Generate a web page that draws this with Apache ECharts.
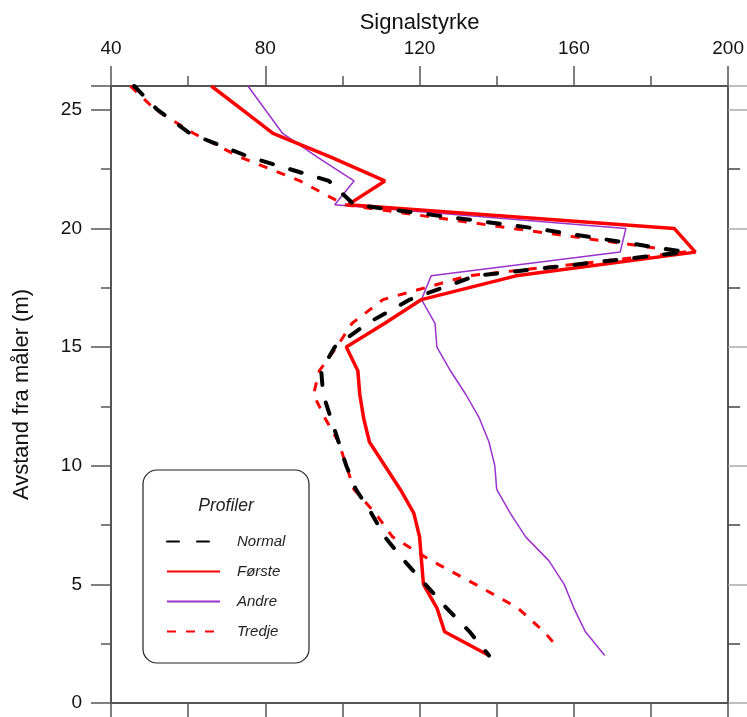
<!DOCTYPE html>
<html>
<head>
<meta charset="utf-8">
<script src="https://cdn.jsdelivr.net/npm/echarts@6/dist/echarts.min.js"></script>
<style>
html,body{margin:0;padding:0;background:#fff;}
#c{width:747px;height:717px;}
</style>
</head>
<body>
<div id="c"></div>
<script>
// Depths (m) for the profiles
const depths = [26,25,24,23,22,21,20,19,18,17,16,15,14,13,12,11,10,9,8,7,6,5,4,3,2];
const tredjeDepths = [26,25,24,23,22,21,20,19,18,17,16,15,14,13,12,11,10,9,8,7,6,5,4,3,2.5];

// Signal strength values
const normal = [46,52,60.5,76,96.5,103,150,189,134.5,117.5,106.5,98,94.5,95,97,99,101,103.5,107.5,111,116,121.5,127,133,138];
const forste = [66,74,82,97,111,101.5,186,191.5,145,120.5,111,101,104,104.5,105.5,107,111,115,118.5,120,120.5,121,124.5,126.5,138];
const andre  = [75.5,80,84.5,93.5,103,98,173.5,172,123,120.5,124,124.5,128,132,135.5,138,139.5,140,143.5,147.5,153.5,157.5,160,163,168];
const tredje = [45,51.5,61.5,73.5,89,100.5,144,189,132.5,110.5,102.5,98.5,94,92.5,95.5,99,101,103,108.5,113,123,134.5,145.5,152.3,155];

const seriesNames = ['Normal','Første','Andre','Tredje'];
const xTicks = [40,80,120,160,200];
const yTicks = [0,5,10,15,20,25];

function pairs(vals, ds){ return vals.map((v,i)=>[v, ds[i]]); }

const FONT = 'Liberation Sans, Arial, sans-serif';
const AX = '#555';

const chart = echarts.init(document.getElementById('c'));
chart.setOption({
  animation:false,
  textStyle:{fontFamily:FONT},
  grid:{left:111, right:16, top:86, bottom:14, containLabel:false},
  xAxis:[{
    type:'value', position:'top', min:xTicks[0], max:xTicks[xTicks.length-1], interval:40,
    name:'Signalstyrke', nameLocation:'middle', nameGap:50,
    nameTextStyle:{fontSize:22, color:'#111', fontFamily:FONT},
    axisLine:{show:true, onZero:false, lineStyle:{color:AX, width:2}},
    axisTick:{show:true, length:20, lineStyle:{color:AX, width:1.5}},
    minorTick:{show:true, splitNumber:2, length:10, lineStyle:{color:AX, width:1.5}},
    axisLabel:{fontSize:19, color:'#111', margin:28, fontFamily:FONT},
    splitLine:{show:false}, minorSplitLine:{show:false}
  },{
    type:'value', position:'bottom', min:xTicks[0], max:xTicks[xTicks.length-1], interval:20,
    axisLine:{show:true, onZero:false, lineStyle:{color:AX, width:2}},
    axisTick:{show:true, length:14, lineStyle:{color:AX, width:1.5}},
    axisLabel:{show:false}, splitLine:{show:false}
  }],
  yAxis:[{
    type:'value', position:'left', min:0, max:26, interval:5,
    name:'Avstand fra måler (m)', nameLocation:'middle', nameGap:78,
    nameTextStyle:{fontSize:22, color:'#111', fontFamily:FONT},
    axisLine:{show:true, onZero:false, lineStyle:{color:AX, width:2}},
    axisTick:{show:true, length:20, lineStyle:{color:AX, width:1.5}},
    minorTick:{show:true, splitNumber:2, length:10, lineStyle:{color:AX, width:1.5}},
    axisLabel:{fontSize:19, color:'#111', margin:29, fontFamily:FONT,
      formatter:function(v){ return yTicks.indexOf(v)>=0 ? String(v) : ''; }},
    splitLine:{show:false}, minorSplitLine:{show:false}
  },{
    type:'value', position:'right', min:0, max:26, interval:5,
    axisLine:{show:true, onZero:false, lineStyle:{color:AX, width:2}},
    axisTick:{show:true, length:19, lineStyle:{color:'#aaa', width:1.5}},
    minorTick:{show:true, splitNumber:2, length:12, lineStyle:{color:'#444', width:1.5}},
    axisLabel:{show:false}, splitLine:{show:false}
  }],
  legend:{
    orient:'vertical', left:166, top:534, padding:0,
    itemWidth:53, itemHeight:14, itemGap:15,
    itemStyle:{opacity:0},
    textStyle:{fontSize:15, fontStyle:'italic', color:'#222', fontFamily:FONT, padding:[0,0,0,12]},
    data:seriesNames
  },
  graphic:[
    {type:'rect', shape:{x:143, y:470, width:166, height:193, r:14},
     style:{fill:'#fff', stroke:'#222', lineWidth:1.2}, z:-1},
    {type:'text', x:226, y:506, style:{text:'Profiler', fontSize:17.5, fontStyle:'italic',
     fill:'#222', fontFamily:FONT, textAlign:'center', textVerticalAlign:'middle'}}
  ],
  series:[
    {name:seriesNames[0], type:'line', symbol:'rect', showSymbol:false, z:4, data:pairs(normal, depths),
     lineStyle:{color:'#000', width:4, type:[12,18], cap:'round'}, itemStyle:{color:'#000'}},
    {name:seriesNames[1], type:'line', symbol:'rect', showSymbol:false, z:3, data:pairs(forste, depths),
     lineStyle:{color:'#ff0000', width:3.5}, itemStyle:{color:'#ff0000'}},
    {name:seriesNames[2], type:'line', symbol:'rect', showSymbol:false, z:2, data:pairs(andre, depths),
     lineStyle:{color:'#9933cc', width:1.5}, itemStyle:{color:'#9933cc'}},
    {name:seriesNames[3], type:'line', symbol:'rect', showSymbol:false, z:3, data:pairs(tredje, tredjeDepths),
     lineStyle:{color:'#ff0000', width:3, type:[9,10]}, itemStyle:{color:'#ff0000'}}
  ]
});
</script>
</body>
</html>
